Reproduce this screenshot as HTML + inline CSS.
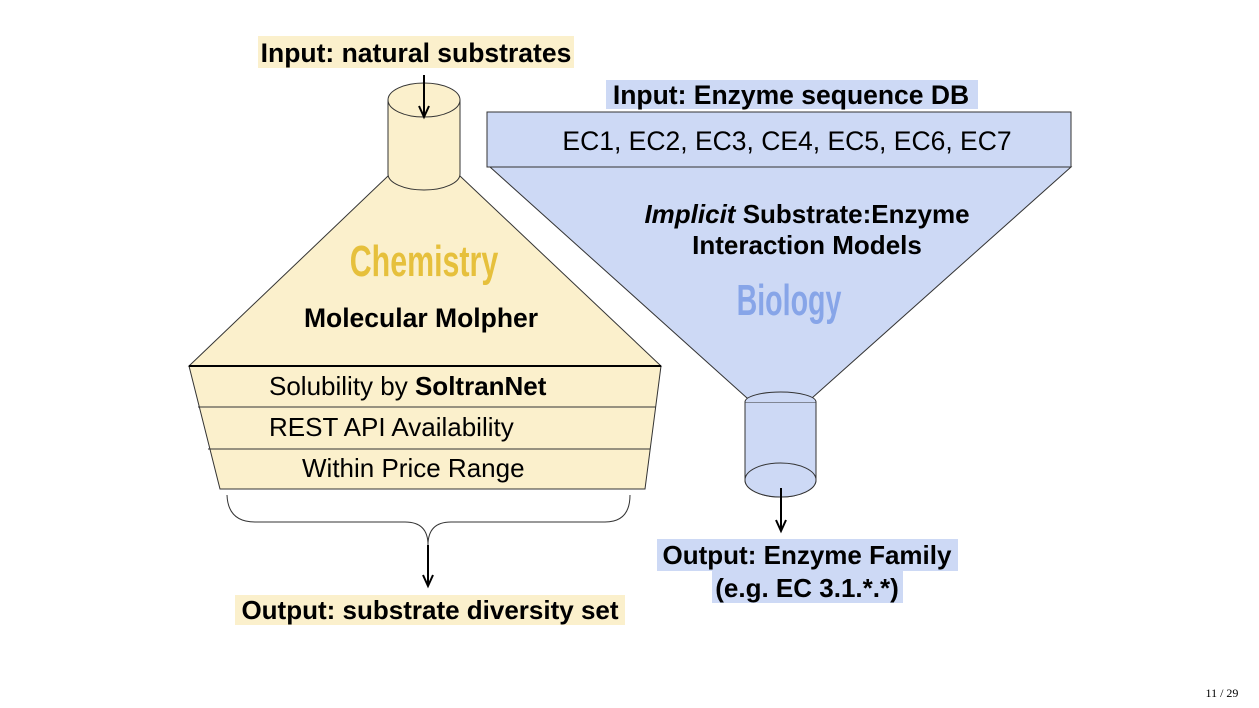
<!DOCTYPE html>
<html><head><meta charset="utf-8"><style>
html,body{margin:0;padding:0;background:#fff;}
svg{display:block;}
text{font-family:"Liberation Sans",sans-serif;fill:#000;}
.b{font-weight:bold;}
.cond{font-family:"Liberation Sans Narrow","Liberation Sans",sans-serif;font-weight:bold;}
</style></head><body>
<svg width="1259" height="708" viewBox="0 0 1259 708">

<g>
<rect x="258" y="36" width="316" height="32" fill="#fbf0cc"/>
<text x="416" y="62" text-anchor="middle" class="b" font-size="26.5">Input: natural substrates</text>

<polygon points="388,176 460,176 661,366 189,366" fill="#fbf0cc" stroke="#333" stroke-width="1"/>
<path d="M388,100 L388,174 A36,16 0 0 0 460,174 L460,100 Z" fill="#fbf0cc" stroke="#333" stroke-width="1"/>
<ellipse cx="424" cy="100" rx="36" ry="17" fill="#fbf0cc" stroke="#333" stroke-width="1"/>
<line x1="424" y1="75" x2="424" y2="116" stroke="#000" stroke-width="2"/>
<path d="M419,106 L424,117 L429,106" fill="none" stroke="#000" stroke-width="2"/>

<text x="424" y="276" text-anchor="middle" class="cond" font-size="44" style="fill:#e6c03c" transform="translate(424 0) scale(0.69 1) translate(-424 0)">Chemistry</text>
<text x="421" y="327" text-anchor="middle" class="b" font-size="26.5">Molecular Molpher</text>

<polygon points="189,366 661,366 645,489 220,489" fill="#fbf0cc" stroke="#333" stroke-width="1"/>
<line x1="189" y1="366" x2="661" y2="366" stroke="#000" stroke-width="2"/>
<line x1="198" y1="407" x2="656" y2="407" stroke="#333" stroke-width="1"/>
<line x1="208" y1="449" x2="650" y2="449" stroke="#333" stroke-width="1"/>
<text x="269" y="395" font-size="26">Solubility by <tspan class="b">SoltranNet</tspan></text>
<text x="269" y="436" font-size="26">REST API Availability</text>
<text x="302" y="477" font-size="26">Within Price Range</text>

<path d="M227,495 Q228,522 255,522 L405,522 Q428,522 428,545 Q428,522 451,522 L605,522 Q630,522 630,495" fill="none" stroke="#333" stroke-width="1"/>
<line x1="428" y1="545" x2="428" y2="585" stroke="#000" stroke-width="2"/>
<path d="M423,575 L428,586 L433,575" fill="none" stroke="#000" stroke-width="2"/>
<rect x="235" y="595" width="390" height="30" fill="#fbf0cc"/>
<text x="430" y="619" text-anchor="middle" class="b" font-size="26">Output: substrate diversity set</text>
</g>

<g>
<rect x="606" y="80" width="372" height="29" fill="#cdd9f5"/>
<text x="791" y="104" text-anchor="middle" class="b" font-size="26.5">Input: Enzyme sequence DB</text>
<polygon points="490,167 1071,167 812,398 747,398" fill="#cdd9f5" stroke="#333" stroke-width="1"/>
<rect x="487" y="112" width="584" height="55" fill="#cdd9f5" stroke="#333" stroke-width="1"/>
<text x="787" y="150" text-anchor="middle" font-size="26.5">EC1, EC2, EC3, CE4, EC5, EC6, EC7</text>
<text x="807" y="223" text-anchor="middle" font-size="26" class="b"><tspan font-style="italic">Implicit</tspan> Substrate:Enzyme</text>
<text x="807" y="254" text-anchor="middle" font-size="26" class="b">Interaction Models</text>
<text x="789" y="315" text-anchor="middle" class="cond" font-size="44" style="fill:#87a5e8" transform="translate(789 0) scale(0.65 1) translate(-789 0)">Biology</text>

<path d="M745,402 L745,480 A35.5,17 0 0 0 816,480 L816,402 Z" fill="#cdd9f5" stroke="#333" stroke-width="1"/>
<path d="M745,402 A35.5,10 0 0 1 816,402" fill="#cdd9f5" stroke="#333" stroke-width="1"/>
<ellipse cx="780.5" cy="480" rx="35.5" ry="17" fill="#cdd9f5" stroke="#333" stroke-width="1"/>
<line x1="781" y1="488" x2="781" y2="530" stroke="#000" stroke-width="2"/>
<path d="M776,520 L781,531 L786,520" fill="none" stroke="#000" stroke-width="2"/>
<rect x="657" y="539" width="301" height="32" fill="#cdd9f5"/>
<rect x="712" y="571" width="191" height="32" fill="#cdd9f5"/>
<text x="807" y="564" text-anchor="middle" class="b" font-size="26">Output: Enzyme Family</text>
<text x="807" y="597" text-anchor="middle" class="b" font-size="26">(e.g. EC 3.1.*.*)</text>
</g>

<text x="1222" y="697" text-anchor="middle" font-size="12" style="font-family:'Liberation Serif',serif">11 / 29</text>
</svg>
</body></html>
